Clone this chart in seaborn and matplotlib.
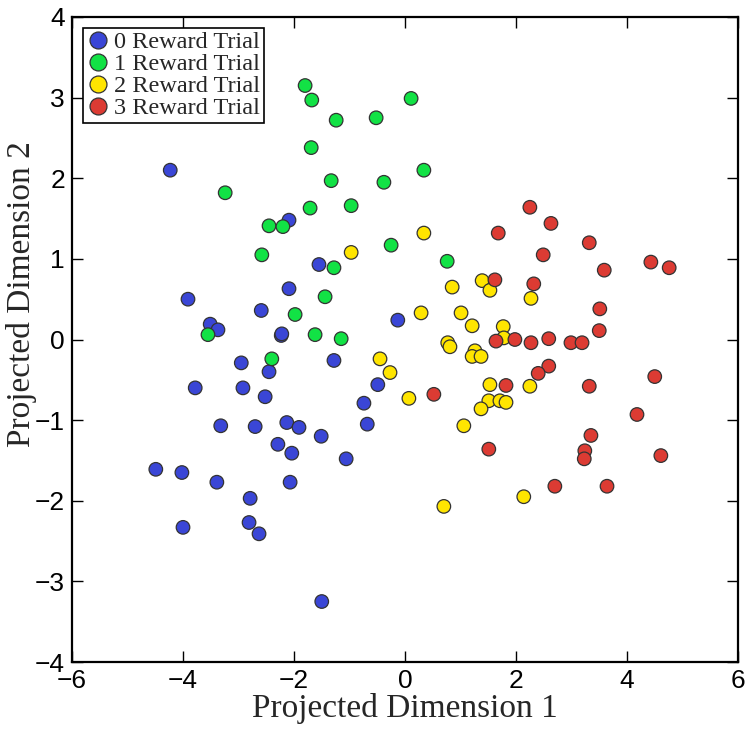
import numpy as np
import pandas as pd
import matplotlib
matplotlib.use("Agg")
import matplotlib.pyplot as plt
import seaborn as sns

# ---- data ----
blue_x = [-4.23, -2.09, -1.55, -3.91, -2.09, -2.59, -3.51, -3.37, -2.23, -2.22, -0.13,
          -2.95, -1.28, -2.45, -3.78, -2.92, -2.52, -0.49, -0.74, -0.68, -3.32, -2.70,
          -2.13, -1.91, -1.51, -1.06, -2.29, -2.04, -4.49, -4.02, -3.39, -2.07, -2.79,
          -2.81, -2.63, -4.00, -1.50]
blue_y = [2.10, 1.48, 0.93, 0.50, 0.63, 0.36, 0.19, 0.12, 0.05, 0.07, 0.24,
          -0.29, -0.26, -0.40, -0.60, -0.60, -0.71, -0.56, -0.79, -1.05, -1.07, -1.08,
          -1.03, -1.09, -1.20, -1.48, -1.30, -1.41, -1.61, -1.65, -1.77, -1.77, -1.97,
          -2.27, -2.41, -2.33, -3.25]

green_x = [-1.80, -1.68, 0.11, -1.24, -0.52, -1.69, 0.34, -1.33, -0.38, -3.24, -1.71,
           -0.97, -2.45, -2.20, -0.25, -2.58, -1.28, 0.76, -1.44, -1.98, -1.62, -1.15,
           -3.55, -2.40]
green_y = [3.15, 2.97, 2.99, 2.72, 2.75, 2.38, 2.10, 1.97, 1.95, 1.82, 1.63,
           1.66, 1.41, 1.40, 1.17, 1.05, 0.89, 0.97, 0.53, 0.31, 0.06, 0.01,
           0.06, -0.24]

yellow_x = [0.34, -0.97, 1.39, 1.53, 0.85, 2.27, 0.29, 1.01, 1.21, 1.77, 1.78, 0.77,
            0.81, 1.26, 1.21, 1.37, -0.45, -0.27, 1.53, 2.25, 0.07, 1.51, 1.71, 1.82,
            1.37, 1.06, 2.14, 0.70]
yellow_y = [1.32, 1.08, 0.73, 0.61, 0.65, 0.51, 0.33, 0.33, 0.17, 0.16, 0.02, -0.04,
            -0.09, -0.14, -0.21, -0.21, -0.24, -0.41, -0.56, -0.58, -0.73, -0.76, -0.76, -0.78,
            -0.86, -1.07, -1.95, -2.07]

red_x = [2.25, 2.63, 1.68, 2.49, 3.32, 4.43, 4.76, 3.59, 1.62, 2.32, 3.51, 3.50,
         1.64, 1.98, 2.27, 2.59, 2.99, 3.19, 2.59, 2.40, 1.82, 3.32, 4.50, 4.18,
         0.52, 3.35, 1.51, 3.24, 3.23, 4.61, 2.70, 3.64]
red_y = [1.64, 1.44, 1.32, 1.05, 1.20, 0.96, 0.89, 0.86, 0.74, 0.69, 0.38, 0.11,
         -0.02, 0.00, -0.04, 0.01, -0.04, -0.04, -0.33, -0.42, -0.57, -0.58, -0.46, -0.93,
         -0.68, -1.19, -1.36, -1.38, -1.48, -1.44, -1.82, -1.82]

labels = ["0 Reward Trial", "1 Reward Trial", "2 Reward Trial", "3 Reward Trial"]
colors = ["#3A46D6", "#12E245", "#FFE500", "#DC3B33"]

df = pd.concat([
    pd.DataFrame({"x": blue_x, "y": blue_y, "group": labels[0]}),
    pd.DataFrame({"x": green_x, "y": green_y, "group": labels[1]}),
    pd.DataFrame({"x": yellow_x, "y": yellow_y, "group": labels[2]}),
    pd.DataFrame({"x": red_x, "y": red_y, "group": labels[3]}),
], ignore_index=True)

sns.set_style("ticks")
plt.rcParams["font.family"] = ["Liberation Serif", "DejaVu Serif"]

fig = plt.figure(figsize=(7.54, 7.34), dpi=100)
ax = fig.add_axes([72 / 754, 1 - 662 / 734, (738 - 72) / 754, (662 - 17) / 734])

sns.scatterplot(data=df, x="x", y="y", hue="group", hue_order=labels,
                palette=dict(zip(labels, colors)), s=95, edgecolor="#333333",
                linewidth=0.9, alpha=1, ax=ax, zorder=3)

ax.set_xlim(-6, 6)
ax.set_ylim(-4, 4)
ax.set_xticks(np.arange(-6, 7, 2))
ax.set_yticks(np.arange(-4, 5, 1))
ax.tick_params(direction="in", length=8, width=1, top=True, right=True,
               labelsize=19, colors="black", pad=5)
for lab in ax.get_xticklabels() + ax.get_yticklabels():
    lab.set_family(["Liberation Sans", "DejaVu Sans"])
for sp in ax.spines.values():
    sp.set_linewidth(1.6)
    sp.set_color("black")

ax.set_xlabel("Projected Dimension 1", fontsize=24, labelpad=0)
ax.set_ylabel("Projected Dimension 2", fontsize=24)
ax.yaxis.set_label_coords(-0.052, 0.57)

leg = ax.legend(loc="upper left", fontsize=17.5, frameon=True, fancybox=False,
                edgecolor="black", borderpad=0.14, handletextpad=0.15,
                labelspacing=0.0, borderaxespad=0.45, markerscale=1.25,
                handlelength=1.0)
leg.get_frame().set_linewidth(1.2)
leg.get_frame().set_alpha(1)

fig.savefig("out.png", dpi=100)
